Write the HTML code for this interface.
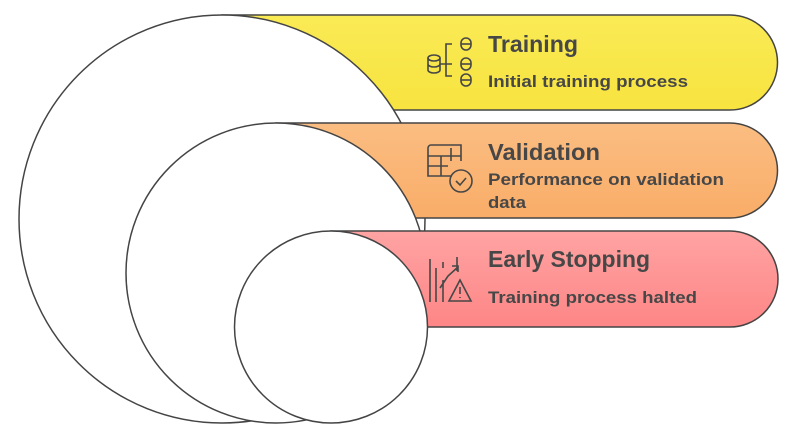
<!DOCTYPE html>
<html><head><meta charset="utf-8"><style>
body{margin:0;background:#fff;}
svg{display:block;font-family:"Liberation Sans",sans-serif;}
.t{font-weight:bold;font-size:23px;fill:#474747}
.s{font-weight:bold;font-size:17px;fill:#474747}
</style></head><body>
<svg width="789" height="433" viewBox="0 0 789 433">
<defs>
<linearGradient id="y" x1="0" y1="0" x2="0" y2="1"><stop offset="0" stop-color="#faea55"/><stop offset="1" stop-color="#f7e440"/></linearGradient>
<linearGradient id="o" x1="0" y1="0" x2="0" y2="1"><stop offset="0" stop-color="#fbbd82"/><stop offset="1" stop-color="#f9ad68"/></linearGradient>
<linearGradient id="r" x1="0" y1="0" x2="0" y2="1"><stop offset="0" stop-color="#ffa3a3"/><stop offset="1" stop-color="#fe8686"/></linearGradient>
</defs>
<g stroke="#444" stroke-width="1.5">
<path d="M222 15 H730 A47.5 47.5 0 0 1 730 110 H222 Z" fill="url(#y)"/>
<ellipse cx="222" cy="219" rx="203" ry="204" fill="#fff"/>
<path d="M276 123 H730 A47.5 47.5 0 0 1 730 218 H276 Z" fill="url(#o)"/>
<ellipse cx="276" cy="273" rx="150" ry="150" fill="#fff"/>
<path d="M331 231 H730 A48 48 0 0 1 730 327 H331 Z" fill="url(#r)"/>
<ellipse cx="331" cy="327" rx="96.5" ry="96" fill="#fff"/>
</g>
<g fill="none" stroke="#474747" stroke-width="1.6">
<ellipse cx="434" cy="58" rx="6" ry="3"/><path d="M428 58v12a6 3 0 0 0 12 0V58M428 64a6 3 0 0 0 12 0"/>
<path d="M440 64h6M452 44h-6v32h6M446 64h6"/>
<rect x="461" y="38" width="10" height="12" rx="5"/><path d="M461 44h10"/>
<rect x="461" y="58" width="10" height="12" rx="5"/><path d="M461 64h10"/>
<rect x="461" y="74" width="10" height="12" rx="5"/><path d="M461 80h10"/>
<path d="M452 176h-24v-28a3 3 0 0 1 3-3h30v16M428 156h33M428 166h20M441 156v20M451 148v13"/>
<circle cx="461" cy="181" r="11"/><path d="M456 181l4 4 6-7"/>
<path d="M430 259v43M436 268v34M443 262v6M443 280v22M457 257v14M440 288l8-12 10-9M452 266h6v6"/>
<path d="M460 280l-11 21h22z"/><path d="M460 287v7M460 297v1"/>
</g>
<text x="488" y="52" class="t" textLength="90" lengthAdjust="spacingAndGlyphs">Training</text>
<text x="488" y="87" class="s" textLength="200" lengthAdjust="spacingAndGlyphs">Initial training process</text>
<text x="488" y="160" class="t" textLength="112" lengthAdjust="spacingAndGlyphs">Validation</text>
<text x="488" y="185" class="s" textLength="236" lengthAdjust="spacingAndGlyphs">Performance on validation</text>
<text x="488" y="208" class="s" textLength="38" lengthAdjust="spacingAndGlyphs">data</text>
<text x="488" y="267" class="t" textLength="162" lengthAdjust="spacingAndGlyphs">Early Stopping</text>
<text x="488" y="303" class="s" textLength="209" lengthAdjust="spacingAndGlyphs">Training process halted</text>
</svg>
</body></html>
